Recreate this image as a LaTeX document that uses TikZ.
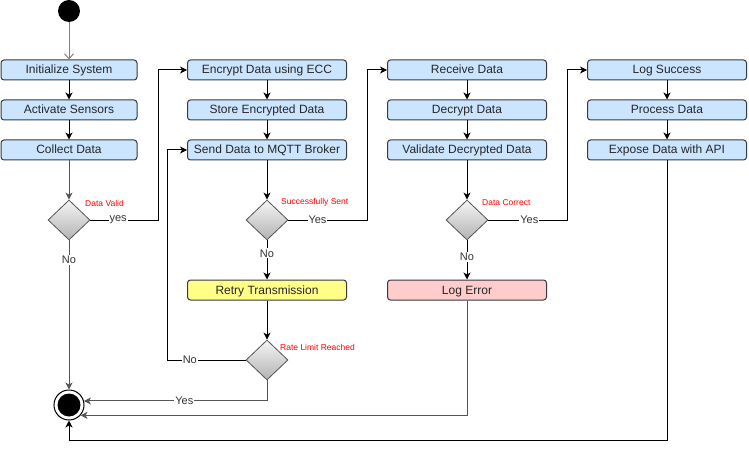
\documentclass[tikz,border=0pt]{standalone}
\usepackage{fontspec}
\setmainfont{Liberation Sans}
\usetikzlibrary{arrows.meta,shapes.geometric}
\definecolor{boxblue}{HTML}{CCE5FF}
\definecolor{boxline}{HTML}{36393D}
\definecolor{yel}{HTML}{FFFF88}
\definecolor{pinkf}{HTML}{FFCCCC}
\definecolor{dline}{HTML}{555555}
\definecolor{gline}{HTML}{808080}
\definecolor{lred}{HTML}{FF0000}
\begin{document}
\begin{tikzpicture}[x=1pt,y=-1pt,
 act/.style={draw=boxline, fill=boxblue, rounded corners=3pt, minimum width=159pt, minimum height=20pt, inner sep=0pt, text height=9.6pt, text depth=1.6pt, line width=1pt, font=\fontsize{12}{14}\selectfont, text=black!85},
 dec/.style={diamond, draw=dline, line width=0.8pt, top color=white!96!black, bottom color=black!30, minimum width=42pt, minimum height=40pt, inner sep=0pt},
 flow/.style={draw=black, line width=1pt, -{Stealth[length=7pt,width=7pt,inset=2pt]}},
 lbl/.style={fill=white, inner sep=1pt, font=\fontsize{11}{13}\selectfont, text=black!80},
 cond/.style={anchor=west, text=lred, font=\fontsize{8.5}{10}\selectfont, inner sep=0pt},
]
\useasboundingbox[fill=white] (0,0) rectangle (749,449);
% start / end
\node[circle, fill=black, minimum size=22pt, inner sep=0pt] (start) at (69,11) {};
\node[circle, draw=black, fill=white, minimum size=30pt, inner sep=0pt, line width=1pt] (endc) at (69,405) {};
\node[circle, fill=black, minimum size=23pt, inner sep=0pt] (endin) at (endc.center) {};
% column 1
\node[act, minimum width=136pt] (init) at (69,70) {Initialize System};
\node[act, minimum width=136pt] (actv) at (69,110) {Activate Sensors};
\node[act, minimum width=136pt] (coll) at (69,150) {Collect Data};
\node[dec] (d1) at (69,220) {};
\node[cond] (c1) at (85,203) {Data Valid};
% column 2
\node[act] (enc) at (267,70) {Encrypt Data using ECC};
\node[act] (store) at (267,110) {Store Encrypted Data};
\node[act] (send) at (267,150) {Send Data to MQTT Broker};
\node[dec] (d2) at (267,220) {};
\node[cond] (c2) at (281,202) {Successfully Sent};
\node[act, fill=yel] (retry) at (267,290) {Retry Transmission};
\node[dec] (d3) at (267,360) {};
\node[cond] (c3) at (280,347) {Rate Limit Reached};
% column 3
\node[act] (recv) at (467,70) {Receive Data};
\node[act] (decr) at (467,110) {Decrypt Data};
\node[act] (valid) at (467,150) {Validate Decrypted Data};
\node[dec] (d4) at (467,220) {};
\node[cond] (c4) at (482,203) {Data Correct};
\node[act, fill=pinkf] (logerr) at (467,290) {Log Error};
% column 4
\node[act] (logs) at (667,70) {Log Success};
\node[act] (proc) at (667,110) {Process Data};
\node[act] (expose) at (667,150) {Expose Data with API};
% bends
\coordinate (j1) at (158,220);
\coordinate (j2) at (367,220);
\coordinate (j3) at (167,360);
\coordinate (j4) at (567,220);
\coordinate (bot) at (69,440);
% connectors
\draw[draw=gline, line width=1pt, -{Straight Barb[length=5pt,width=9pt]}] (start) -- (init);
\draw[flow] (init) -- (actv);
\draw[flow] (actv) -- (coll);
\draw[flow, draw=dline] (coll) -- (d1);
\draw[flow] (d1.east) -- node[lbl, pos=0.41]{yes} (j1) |- (enc.west);
\draw[flow, draw=dline] (d1.south) -- node[lbl, pos=0.133]{No} (endc.north);
\draw[flow] (enc) -- (store);
\draw[flow] (store) -- (send);
\draw[flow] (send) -- (d2);
\draw[flow] (d2.east) -- node[lbl, pos=0.37]{Yes} (j2) |- (recv.west);
\draw[flow] (d2.south) -- node[lbl, pos=0.33]{No} (retry.north);
\draw[flow] (retry) -- (d3);
\draw[flow] (d3.west) -- node[lbl, pos=0.71]{No} (j3) |- (send.west);
\draw[flow, draw=dline] (d3.south) |- node[lbl, pos=0.726]{Yes} (endc.15);
\draw[flow] (recv) -- (decr);
\draw[flow] (decr) -- (valid);
\draw[flow] (valid) -- (d4);
\draw[flow] (d4.east) -- node[lbl, pos=0.52]{Yes} (j4) |- (logs.west);
\draw[flow] (d4.south) -- node[lbl, pos=0.42]{No} (logerr.north);
\draw[flow, draw=dline] (logerr.south) |- (endc.-42);
\draw[flow] (logs) -- (proc);
\draw[flow] (proc) -- (expose);
\draw[flow] (expose.south) |- (bot) -- (endc.south);
\end{tikzpicture}
\end{document}
